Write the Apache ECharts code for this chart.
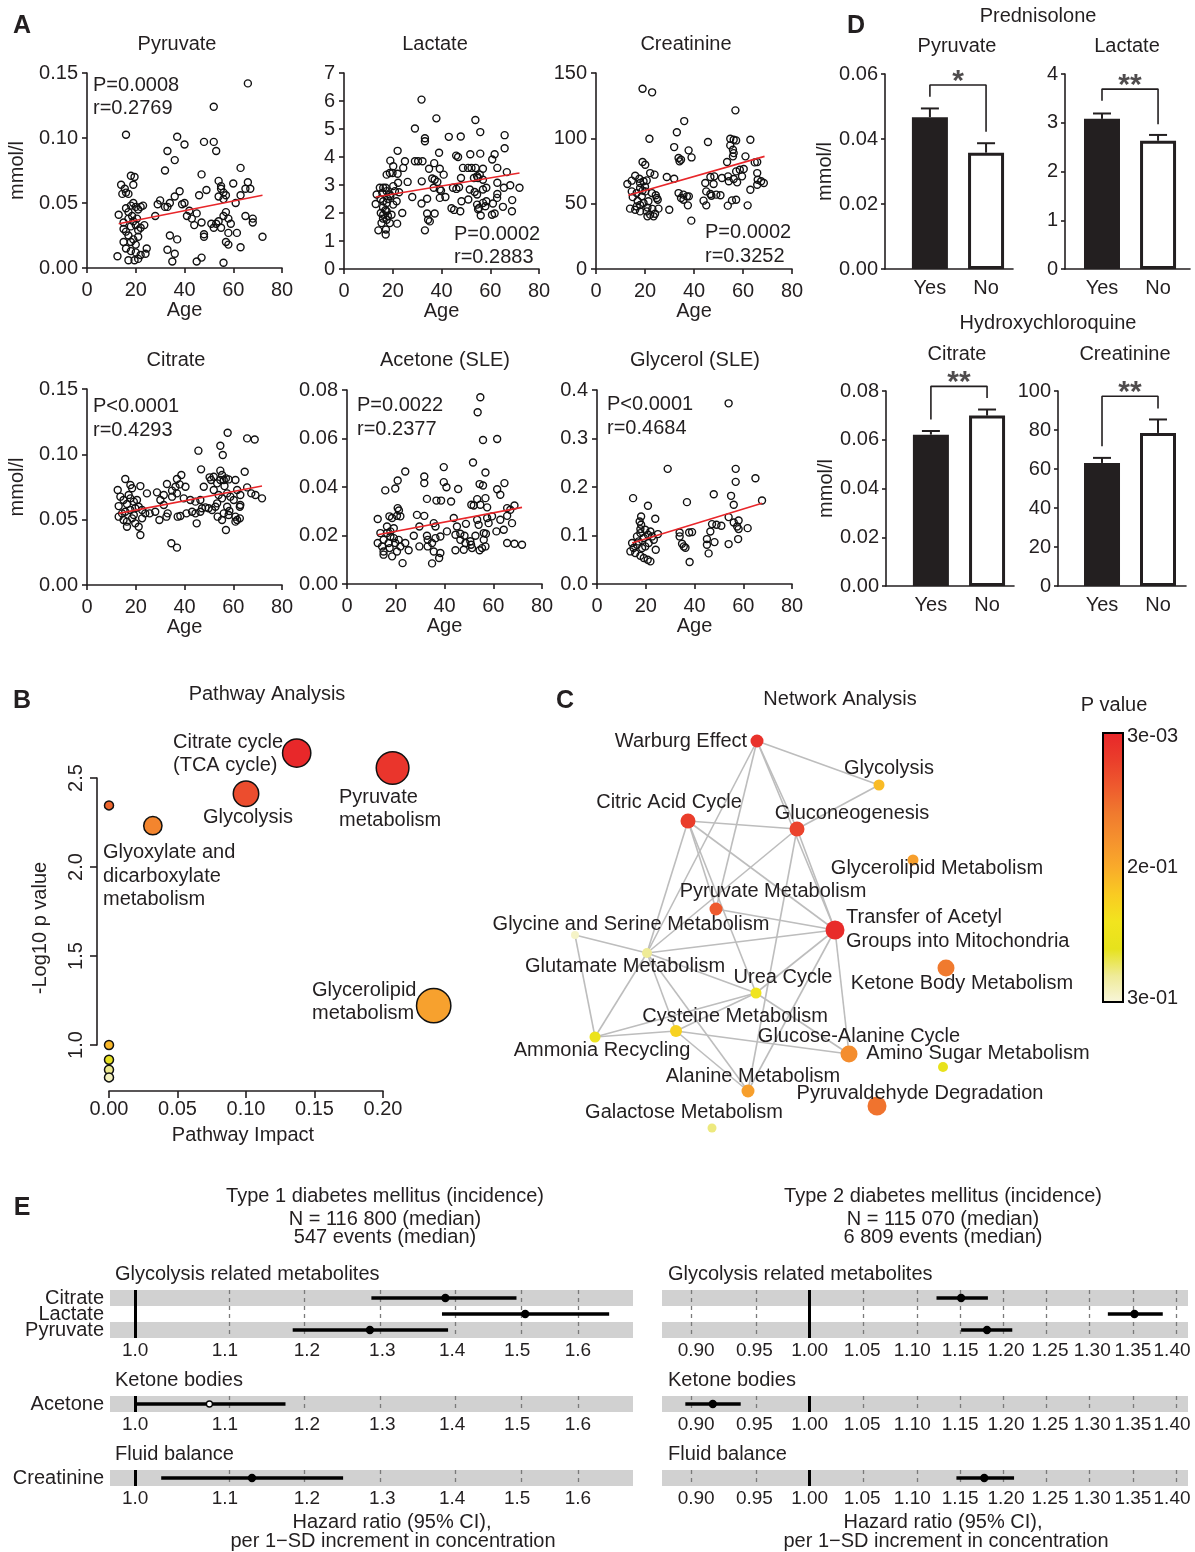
<!DOCTYPE html>
<html>
<head>
<meta charset="utf-8">
<script src="https://cdn.jsdelivr.net/npm/echarts@6/dist/echarts.min.js"></script>
<style>
  html, body { margin: 0; padding: 0; background: #fff; }
  #chart { width: 1195px; height: 1552px; }
</style>
</head>
<body>
<div id="chart"></div>
<script>
// ---- A: metabolite vs age (age, mmol/l) ----
const pyruvatePts = [[14,0.064],[15.5,0.061],[16,0.058],[18,0.071],[19.5,0.070],[19,0.064],[14.5,0.057],[17,0.057],[16,0.1025],
  [13,0.041],[15,0.035],[16,0.046],[17,0.043],[18,0.048],[19,0.050],[20,0.047],[21,0.045],[22,0.047],[23,0.048],
  [15,0.030],[16,0.028],[17,0.025],[18,0.032],[19,0.036],[20,0.033],[21,0.029],[22,0.031],[17,0.038],[18,0.020],[19,0.022],
  [20,0.018],[21,0.024],[16,0.015],[18,0.013],[20,0.012],[22,0.010],[24,0.011],[24.5,0.015],[12.5,0.009],[17,0.006],
  [19.5,0.006],[21,0.007],[23.5,0.033],[18.5,0.040],[20.5,0.038],[15,0.020],
  [28,0.040],[30,0.052],[29,0.049],[32,0.047],[33,0.047],[34,0.050],[33,0.090],[36,0.083],[32,0.075],[37,0.101],[40,0.095],
  [38,0.059],[36,0.055],[39,0.049],[40,0.050],[34,0.025],[37,0.022],[33,0.014],[36,0.011],[35,0.005],[41,0.040],[43,0.038],
  [44,0.033],[42,0.044],[46,0.056],[47,0.072],[48,0.097],[49,0.060],[45,0.042],[47,0.035],[48,0.026],[48,0.024],[45,0.005],[47,0.008],
  [52,0.124],[52,0.097],[53,0.090],[54,0.067],[55,0.061],[55,0.063],[56,0.058],[54,0.055],[56,0.053],[57,0.056],[53,0.034],
  [54,0.036],[55,0.031],[56,0.040],[57,0.043],[58,0.038],[59,0.034],[60,0.065],[61,0.050],[63,0.056],[63,0.077],[65,0.061],
  [66,0.066],[67,0.061],[58,0.027],[57,0.020],[58,0.018],[61.5,0.027],[63,0.016],[56,0.004],[65,0.040],[68,0.038],[68,0.035],
  [72,0.024],[66,0.142],[51,0.034],[52,0.031]]
const pyruvateFit = [[13, 0.034], [72, 0.056]]

const lactatePts = [[31.8,6.05],[37.9,5.38],[53.9,5.32],[29.1,5.02],[55.9,4.89],[65.9,4.78],[43,4.72],[47.9,4.73],[33.2,4.67],
  [33.2,4.56],[65.9,4.31],[22,4.22],[39,4.15],[46,4.05],[46.8,4.0],[51.8,4.1],[55.9,4.12],[61.8,4.1],[19,3.87],[25,3.85],
  [29.1,3.85],[30.4,3.85],[32.2,3.85],[37,3.78],[60.8,3.91],[20.2,3.67],[19.9,3.43],[24.3,3.61],[34.9,3.58],[39.3,3.58],
  [48.8,3.61],[50.9,3.61],[52.3,3.61],[54,3.61],[57,3.58],[55.7,3.37],[54.6,3.31],[62.9,3.61],[66.8,3.46],[17.5,3.37],
  [18.8,3.43],[22,3.4],[40.9,3.37],[36.2,3.23],[37.2,3.19],[38.3,3.11],[31.9,3.13],[48,3.25],[53.3,3.25],[55,3.25],[57,3.19],
  [14.7,2.9],[16.1,2.9],[17.1,2.9],[20.2,2.96],[22.2,3.08],[26.1,3.11],[13.4,2.66],[15.7,2.72],[17.5,2.78],[18.8,2.66],
  [20.9,2.78],[22.6,2.74],[28,2.57],[39.3,2.84],[36.8,2.9],[39.8,2.8],[44.7,2.9],[46.1,2.86],[47.2,2.92],[51.6,2.84],
  [53.6,2.75],[54.6,2.66],[58.4,2.9],[57,2.84],[62.9,3.08],[65.6,2.9],[68.2,2.99],[72,2.9],[13,2.32],[16.1,2.42],[17.5,2.36],
  [20.2,2.3],[21.6,2.42],[31.8,2.34],[34.1,2.51],[39.3,2.54],[41.6,2.57],[44.1,2.17],[45.2,2.11],[47.7,2.06],[48.2,2.42],
  [51,2.48],[54.6,2.3],[55.4,2.18],[57,2.36],[58.4,2.42],[58,2.24],[61.1,2.34],[62.9,2.68],[62.8,2.54],[65.2,2.22],[69,2.46],
  [68.9,2.06],[15.1,2.0],[16.1,1.94],[17.5,2.06],[19.5,1.94],[23.9,2.0],[34.1,1.98],[37.2,1.98],[34.5,1.76],[35.2,1.7],
  [55,2.13],[56.1,1.91],[60.7,1.94],[61.8,1.98],[15.4,1.64],[17.5,1.76],[18.8,1.64],[21.8,1.62],[14.1,1.38],[17.2,1.41],
  [17.1,1.23],[33.2,1.38],[16,2.2],[18,2.5],[19,2.6],[15,2.5],[17,2.1],[18,1.9],[16,1.8]]
const lactateFit = [[13, 2.57], [72, 3.43]]

const creatininePts = [[19,138],[22.9,135.2],[56.9,121.4],[36,113.2],[21.8,99.7],[33,104.6],[45.7,97.2],[31.9,93.3],
  [37.8,90.8],[39,85.4],[33.7,84.9],[34.7,83.6],[34.1,82.4],[54.8,94.6],[55.9,91.3],[56.2,88.7],[55.9,86.2],[54.8,99.7],
  [56.2,98.9],[57.2,98.4],[63,98.9],[61,86.2],[53.5,81.9],[65.8,81.9],[64.8,81.6],[19,81.9],[20.1,79.8],[16,71.4],[14.6,67.6],
  [12.8,65],[17.7,69.1],[18,65.8],[19.4,67.1],[20.7,67.8],[22.1,73.4],[23.9,72.2],[28.9,70.4],[31.9,69.1],[24.4,56.4],[25.2,53],
  [57.2,74.7],[58.7,76],[60.3,76.5],[59.6,70.9],[57.6,66.3],[56.2,68.9],[46.7,70.4],[48.3,70.9],[48,65],[44.6,65.8],[45,59.4],
  [46.7,57.4],[49.1,56.9],[50.8,56.4],[53.9,70.9],[54.2,67.1],[51.4,69.6],[65.8,73.4],[66,68.3],[67.4,67.1],[68.5,65.8],
  [65.8,64.5],[63,60.7],[33.7,58.1],[35.7,56.9],[37.1,55.6],[34.7,54.3],[35.7,53],[37.5,48.7],[37.9,55.6],[29.9,45.4],[38.9,37],
  [43.9,52.3],[45,48.7],[47.1,56.1],[53.8,48.5],[55.5,52.5],[57.2,53],[61.9,48.7],[13.9,46.2],[16,45.4],[18,44.1],[20.7,44.1],
  [22.1,41.6],[24.1,42.3],[25.5,46.2],[21,40.3],[23.5,40.3],[16.6,47.9],[19.4,50.5],[21.4,51.8],[18.7,55.6],[16.6,58.1],
  [14.6,59.4],[18,62],[20.1,59.4],[22.8,58.1],[24.8,54.3],[17,52],[19,60],[21,47],[15,55],[18,49],[23,46],[20,63]]
const creatinineFit = [[13.2, 56.4], [68.8, 86.2]]

const citratePts = [[57.7,0.1165],[65.7,0.1122],[68.8,0.1114],[54.7,0.1066],[55.7,0.0995],[45.7,0.1028],[46.8,0.0885],
  [64.7,0.0867],[54.7,0.0875],[55.4,0.0842],[54.7,0.0803],[56.1,0.0803],[57,0.0816],[58.1,0.0808],[53.4,0.0778],[56.4,0.0757],
  [50.3,0.0824],[52,0.0829],[50.9,0.0803],[38.7,0.0842],[36.9,0.0811],[38,0.077],[36.3,0.0752],[40.4,0.0752],[32.8,0.0773],
  [34.9,0.0722],[28.7,0.0709],[24.6,0.0701],[21.9,0.0757],[18.5,0.074],[17.8,0.0765],[15.7,0.0811],[12.6,0.0727],[60.9,0.0803],
  [61.6,0.0727],[65.7,0.0747],[67.4,0.0701],[69.1,0.0689],[71.8,0.0663],[62.9,0.0689],[47.9,0.0752],[46.5,0.065],[44.5,0.0638],
  [42.4,0.065],[39.7,0.0663],[36.9,0.0701],[34.9,0.0676],[31.5,0.0689],[30.1,0.065],[31.5,0.0612],[52,0.0727],[54,0.0689],
  [55.4,0.0663],[57.5,0.0701],[58.8,0.0676],[60.2,0.065],[53.4,0.0625],[52.7,0.0599],[51.3,0.0574],[49.9,0.0587],[48.6,0.0594],
  [47.2,0.0587],[46.5,0.0561],[44.5,0.0548],[43.1,0.0561],[40.8,0.0548],[38.3,0.0528],[37.2,0.0523],[57.5,0.0599],[58.4,0.0566],
  [56.1,0.0548],[58.1,0.0536],[60.9,0.0523],[62.7,0.051],[62.9,0.0612],[62.7,0.0599],[61.6,0.0497],[53.6,0.0523],[55.4,0.0497],
  [57,0.0421],[60.9,0.0485],[29.7,0.0497],[33.1,0.0548],[32.6,0.0523],[28,0.0561],[25.7,0.0548],[45,0.0472],[34.6,0.0319],
  [36.9,0.0286],[13,0.0604],[15,0.065],[16.4,0.062],[17.8,0.0663],[19.2,0.0638],[20.5,0.065],[13,0.0523],[14.4,0.0548],
  [15.7,0.0561],[17.8,0.0574],[19.8,0.0587],[21.2,0.0599],[22.6,0.0574],[23.9,0.0548],[15,0.0497],[16.4,0.0446],[18.5,0.051],
  [19.8,0.0472],[21.2,0.0446],[21.9,0.0383],[22.6,0.051],[16.4,0.0485],[19.2,0.0536],[13.7,0.0676],[17.1,0.0689]]
const citrateFit = [[13, 0.0548], [71.8, 0.0757]]

const acetonePts = [[54.7,0.077],[53.6,0.0708],[55.8,0.0594],[61.6,0.0598],[51.7,0.0501],[39.7,0.0482],[56.8,0.046],
  [23.9,0.0464],[20.8,0.0427],[19.8,0.0394],[15.7,0.0386],[31.7,0.0443],[31.7,0.0416],[39.7,0.042],[40.8,0.0399],[45.6,0.0392],
  [54.4,0.0412],[55.8,0.0406],[64.6,0.0416],[61.6,0.0391],[62.9,0.0368],[32.8,0.0351],[36.7,0.0344],[38.6,0.0344],[42.7,0.034],
  [51,0.0327],[52,0.0324],[53.4,0.035],[56.8,0.0354],[54.7,0.0327],[57.5,0.0316],[65.7,0.0313],[68.7,0.0324],[12.6,0.0268],
  [17.4,0.0279],[18.5,0.0272],[20.5,0.0281],[21.9,0.0279],[20.8,0.0313],[21.3,0.0303],[28.7,0.0285],[31.7,0.0281],[35.6,0.0251],
  [36.3,0.0237],[29.7,0.0237],[43.8,0.0272],[45.1,0.0237],[48.8,0.0248],[53.4,0.0265],[54,0.0244],[57.5,0.0272],[59.5,0.0279],
  [58.1,0.0251],[61.3,0.0217],[62.9,0.0265],[64.3,0.0224],[65.7,0.0281],[67.7,0.0251],[67,0.0306],[27.4,0.0199],[32.8,0.0199],
  [33.1,0.0182],[34.9,0.0169],[36.3,0.0189],[38.3,0.0196],[41,0.0217],[44.5,0.0203],[46.5,0.0207],[48.2,0.0199],[46.5,0.0182],
  [48.6,0.0169],[50.6,0.0176],[50.9,0.0162],[52.7,0.0199],[56.1,0.021],[56.1,0.0182],[57,0.0207],[65.7,0.0169],[68.7,0.0166],
  [71.8,0.0162],[29.7,0.0155],[33.1,0.0155],[35.6,0.0134],[38.3,0.0128],[37.8,0.0107],[34.9,0.0085],[22.8,0.0086],[44.5,0.0139],
  [47.9,0.0141],[51.3,0.0148],[54.4,0.0139],[55.4,0.0148],[56.8,0.0155],[12.6,0.0169],[14.4,0.0155],[15,0.0134],[17.1,0.0169],
  [17.8,0.0196],[16.4,0.021],[17.8,0.0217],[19.2,0.0189],[19.8,0.0169],[21.2,0.0182],[21.9,0.0155],[18.5,0.0114],[15,0.0121],
  [20.5,0.0134],[23.9,0.0169],[25.3,0.0139],[13.7,0.021],[16.4,0.0237],[19.2,0.023],[15,0.0182],[17.5,0.0148]]
const acetoneFit = [[12.6, 0.0203], [71.8, 0.0316]]

const glycerolPts = [[54,0.3725],[29,0.2374],[56.9,0.2374],[65,0.2181],[56.9,0.2106],[47.9,0.1852],[55,0.1818],[14.8,0.177],
  [36.9,0.1688],[56.1,0.1633],[67.7,0.1722],[20.9,0.1612],[18.1,0.1393],[23.9,0.1345],[54,0.1379],[58.1,0.131],[56.1,0.1269],
  [57.5,0.1187],[58.1,0.1132],[61.8,0.1152],[47.2,0.1235],[49,0.1221],[51,0.12],[46.5,0.1084],[33.9,0.1063],[33.9,0.0981],
  [37.8,0.1063],[39,0.107],[25,0.1029],[20.9,0.1015],[17.8,0.105],[16.4,0.0981],[19.2,0.0947],[22.6,0.0981],[45.1,0.0926],
  [48.2,0.0864],[45.1,0.0809],[54,0.0823],[57.9,0.0926],[34.9,0.083],[35.6,0.0775],[36.3,0.0748],[24.1,0.0707],[45.8,0.0631],
  [38,0.0453],[13.7,0.0672],[15.7,0.0638],[17.8,0.0583],[19.2,0.0535],[20.8,0.0501],[21.9,0.0466],[14.4,0.0844],[16.4,0.0809],
  [15,0.0741],[18.5,0.0741],[19.8,0.0775],[21.2,0.0844],[23.3,0.0912],[17.1,0.0878],[17.8,0.1132],[18.1,0.1221],[17.5,0.129],
  [19.8,0.1118],[21.9,0.1084]]
const glycerolFit = [[14.4, 0.0844], [67.7, 0.1667]]

// ---- D: treatment groups (mean, upper SEM) ----
const groupLabels = ['Yes', 'No']
const predPyrMean = [0.0467, 0.0358]
const predPyrTop = [0.0494, 0.0387]
const predLacMean = [3.08, 2.63]
const predLacTop = [3.19, 2.75]
const hcqCitMean = [0.0621, 0.0699]
const hcqCitTop = [0.0636, 0.0724]
const hcqCreMean = [63.1, 78.5]
const hcqCreTop = [65.7, 85.4]

// ---- B: pathway analysis ----
const pathwayImpact = [0.137, 0.207, 0.100, 0.000, 0.032, 0.237, 0.000, 0.000, 0.000, 0.000]
const pathwayLogP = [2.64, 2.556, 2.412, 2.346, 2.232, 1.221, 1.0, 0.917, 0.861, 0.818]

// ---- C: network ----
const netNames = ['Warburg Effect', 'Glycolysis', 'Citric Acid Cycle', 'Gluconeogenesis', 'Glycerolipid Metabolism',
  'Pyruvate Metabolism', 'Transfer of Acetyl Groups into Mitochondria', 'Glycine and Serine Metabolism',
  'Glutamate Metabolism', 'Ketone Body Metabolism', 'Urea Cycle', 'Cysteine Metabolism', 'Ammonia Recycling',
  'Glucose-Alanine Cycle', 'Amino Sugar Metabolism', 'Alanine Metabolism', 'Pyruvaldehyde Degradation', 'Galactose Metabolism']
const netX = [277, 399, 208, 317, 433, 236, 355, 95, 167, 466, 276, 196, 115, 369, 463, 268, 397, 232]
const netY = [41, 85, 121, 129, 160, 209, 230, 235, 253, 268, 293, 331, 337, 354, 367, 391, 406, 428]
const netP = [0.018, 0.166, 0.033, 0.039, 0.137, 0.062, 0.009, 0.291, 0.27, 0.092, 0.217, 0.19, 0.226, 0.116, 0.235, 0.137, 0.086, 0.264]
const netSize = [13, 11, 15, 15, 11, 13, 19, 8, 10, 17, 11, 12, 11, 17, 10, 13, 19, 9]
const netLinks = [[0,1],[0,3],[0,6],[0,8],[0,5],[1,3],[2,3],[2,6],[2,5],[2,10],[2,8],[3,6],[3,8],[3,15],[5,6],[6,8],
  [6,10],[6,15],[6,13],[7,8],[7,12],[8,10],[8,12],[8,15],[8,11],[10,12],[10,11],[10,13],[11,12],[11,13],[11,15]]

// ---- E: hazard ratios (HR, lower, upper) ----
const glycoRows = ['Citrate', 'Lactate', 'Pyruvate']
const t1GlycoHR = [1.39, 1.513, 1.283]
const t1GlycoLo = [1.285, 1.385, 1.182]
const t1GlycoHi = [1.499, 1.654, 1.394]
const t1KetHR = [1.082], t1KetLo = [0.999], t1KetHi = [1.173]
const t1FluidHR = [1.132], t1FluidLo = [1.028], t1FluidHi = [1.247]
const t2GlycoHR = [1.151, 1.352, 1.179]
const t2GlycoLo = [1.125, 1.319, 1.151]
const t2GlycoHi = [1.180, 1.388, 1.207]
const t2KetHR = [0.914], t2KetLo = [0.891], t2KetHi = [0.938]
const t2FluidHR = [1.176], t2FluidLo = [1.146], t2FluidHi = [1.209]
const t1Ticks = [1.0, 1.1, 1.2, 1.3, 1.4, 1.5, 1.6]
const t2Ticks = [0.90, 0.95, 1.00, 1.05, 1.10, 1.15, 1.20, 1.25, 1.30, 1.35, 1.40]

const FONT = '"Liberation Sans", Arial, Helvetica, sans-serif'
const INK = '#231f20'
const heatStops = ['#e8262a', '#ea3d2b', '#ee5a2e', '#f07a2e', '#f5922e', '#f9ab2a', '#f9cb22', '#f2e41e', '#e6e21c', '#efeb98', '#f8f6dc']

function mix (a, b, f) {
  const pa = [1, 3, 5].map(i => parseInt(a.substr(i, 2), 16))
  const pb = [1, 3, 5].map(i => parseInt(b.substr(i, 2), 16))
  return 'rgb(' + pa.map((v, i) => Math.round(v + (pb[i] - v) * f)).join(',') + ')'
}
function heat (t) {
  t = Math.max(0, Math.min(1, t)) * (heatStops.length - 1)
  const i = Math.min(Math.floor(t), heatStops.length - 2)
  return mix(heatStops[i], heatStops[i + 1], t - i)
}
// colour of the pathway bubbles, by -log10 p
const bubbleScale = [[2.65, '#e8262a'], [2.4, '#ec4f2e'], [2.3, '#f07a2e'], [2.2, '#f58a2e'], [1.2, '#f7a12e'],
  [1.0, '#f9b72a'], [0.92, '#e6e01c'], [0.86, '#eee98e'], [0.8, '#f6f4d4']]
function bubbleColor (v) {
  for (let i = 0; i < bubbleScale.length - 1; i++) {
    const [v0, c0] = bubbleScale[i], [v1, c1] = bubbleScale[i + 1]
    if (v >= v1) return mix(c0, c1, Math.max(0, Math.min(1, (v0 - v) / (v0 - v1))))
  }
  return bubbleScale[bubbleScale.length - 1][1]
}

const grids = [], xAxes = [], yAxes = [], series = [], graphics = []

function addGrid (g, x, y) {
  const i = grids.length
  grids.push(g)
  xAxes.push(Object.assign({ gridIndex: i }, x))
  yAxes.push(Object.assign({ gridIndex: i }, y))
  return i
}

function txt (s, x, y, o = {}) {
  graphics.push({
    type: 'text', x, y, rotation: o.rot || 0, z: 20,
    style: {
      text: s, fill: o.color || INK,
      font: (o.bold ? 'bold ' : '') + (o.size || 20) + 'px ' + FONT,
      textAlign: o.align || 'center', textVerticalAlign: 'middle'
    }
  })
}

const axisLine = { show: true, onZero: false, lineStyle: { color: INK, width: 1.6 } }
const axisTick = { show: true, length: 5, lineStyle: { color: INK, width: 1.6 } }
const lbl = extra => Object.assign({ color: INK, fontSize: 20, fontFamily: FONT }, extra)

// A: scatter with fitted line
function scatterPanel (box, pts, fit, yMax, yStep, dec, yName) {
  const gi = addGrid(box,
    { type: 'value', min: 0, max: 80, interval: 20, axisLine, axisTick, splitLine: { show: false },
      axisLabel: lbl({ margin: 12 }), name: 'Age', nameLocation: 'middle', nameGap: 32, nameTextStyle: lbl() },
    { type: 'value', min: 0, max: yMax, interval: yStep, axisLine, axisTick, splitLine: { show: false },
      axisLabel: lbl({ margin: 9, formatter: v => v.toFixed(dec) }),
      name: yName, nameLocation: 'middle', nameGap: 60, nameTextStyle: lbl() })
  series.push({
    type: 'scatter', xAxisIndex: gi, yAxisIndex: gi, data: pts, symbolSize: 7, z: 2,
    itemStyle: { color: 'rgba(0,0,0,0)', borderColor: '#111', borderWidth: 1.4, opacity: 1 }
  })
  series.push({
    type: 'line', xAxisIndex: gi, yAxisIndex: gi, data: fit, symbol: 'none', z: 3,
    lineStyle: { color: '#e8262a', width: 1.6 }
  })
}

scatterPanel({ left: 87, top: 73, width: 195, height: 195 }, pyruvatePts, pyruvateFit, 0.15, 0.05, 2, 'mmol/l')
scatterPanel({ left: 344, top: 73, width: 195, height: 196 }, lactatePts, lactateFit, 7, 1, 0, '')
scatterPanel({ left: 596, top: 73, width: 196, height: 196 }, creatininePts, creatinineFit, 150, 50, 0, '')
scatterPanel({ left: 87, top: 389, width: 195, height: 196 }, citratePts, citrateFit, 0.15, 0.05, 2, 'mmol/l')
scatterPanel({ left: 347, top: 390, width: 195, height: 194 }, acetonePts, acetoneFit, 0.08, 0.02, 2, '')
scatterPanel({ left: 597, top: 390, width: 195, height: 194 }, glycerolPts, glycerolFit, 0.4, 0.1, 1, '')

// D: bar + SEM + significance bracket
function barPanel (box, xr, means, tops, bracket, stars, yMax, yStep, dec, yName) {
  const gi = addGrid(box,
    { type: 'value', min: xr[0], max: xr[1], axisLine, axisTick: { show: false }, splitLine: { show: false },
      axisLabel: lbl({ margin: 9, customValues: [1, 2], formatter: v => groupLabels[Math.round(v) - 1] }) },
    { type: 'value', min: 0, max: yMax, interval: yStep, axisLine, axisTick: { show: true, length: 4, lineStyle: { color: INK, width: 1.6 } },
      splitLine: { show: false }, axisLabel: lbl({ margin: 7, formatter: v => v.toFixed(dec) }),
      name: yName, nameLocation: 'middle', nameGap: 49, nameTextStyle: lbl() })
  series.push({
    type: 'bar', xAxisIndex: gi, yAxisIndex: gi, barWidth: 36, z: 2,
    data: means.map((m, i) => ({
      value: [i + 1, m],
      itemStyle: i ? { color: '#fff', borderColor: INK, borderWidth: 3 } : { color: INK }
    }))
  })
  series.push({
    type: 'custom', xAxisIndex: gi, yAxisIndex: gi, z: 3, clip: false,
    data: means.map((m, i) => [i + 1, m, tops[i]]),
    renderItem: (p, api) => {
      const a = api.coord([api.value(0), api.value(1)])
      const b = api.coord([api.value(0), api.value(2)])
      const st = { stroke: INK, lineWidth: 2 }
      return {
        type: 'group', children: [
          { type: 'line', shape: { x1: a[0], y1: a[1], x2: b[0], y2: b[1] }, style: st },
          { type: 'line', shape: { x1: b[0] - 9, y1: b[1], x2: b[0] + 9, y2: b[1] }, style: st }
        ]
      }
    }
  })
  series.push({
    type: 'line', xAxisIndex: gi, yAxisIndex: gi, symbol: 'none', z: 3, clip: false,
    data: [[1, bracket[0]], [1, bracket[1]], [2, bracket[1]], [2, bracket[2]]],
    lineStyle: { color: INK, width: 1.6 }
  })
  series.push({
    type: 'scatter', xAxisIndex: gi, yAxisIndex: gi, symbolSize: 1, z: 3, clip: false,
    itemStyle: { color: 'rgba(0,0,0,0)' },
    data: [[1.5, bracket[1]]],
    label: { show: true, position: 'top', distance: -12, formatter: stars, fontSize: 30, fontWeight: 'bold', color: INK, fontFamily: FONT }
  })
}

barPanel({ left: 885, top: 74, width: 128, height: 195 }, [0.2, 2.48], predPyrMean, predPyrTop, [0.053, 0.0566, 0.0422], '*', 0.06, 0.02, 2, 'mmol/l')
barPanel({ left: 1065, top: 74, width: 125, height: 195 }, [0.34, 2.57], predLacMean, predLacTop, [3.45, 3.69, 2.97], '**', 4, 1, 0, '')
barPanel({ left: 886, top: 391, width: 128, height: 195 }, [0.2, 2.48], hcqCitMean, hcqCitTop, [0.0683, 0.0819, 0.0771], '**', 0.08, 0.02, 2, 'mmol/l')
barPanel({ left: 1058, top: 391, width: 128, height: 195 }, [0.214, 2.5], hcqCreMean, hcqCreTop, [71.7, 97.3, 91], '**', 100, 20, 0, '')

// B: pathway bubbles (R-style detached axes)
const gB = addGrid({ left: 109, top: 778, width: 274, height: 267 },
  { type: 'value', min: 0, max: 0.2, interval: 0.05, offset: 46, axisLine,
    axisTick: { show: true, length: 7, lineStyle: { color: INK, width: 1.6 } }, splitLine: { show: false },
    axisLabel: lbl({ margin: 8, formatter: v => v.toFixed(2) }) },
  { type: 'value', min: 1, max: 2.5, interval: 0.5, offset: 12, axisLine,
    axisTick: { show: true, length: 7, lineStyle: { color: INK, width: 1.6 } }, splitLine: { show: false },
    axisLabel: lbl({ margin: 11, rotate: 90, formatter: v => v.toFixed(1) }) })
series.push({
  type: 'scatter', xAxisIndex: gB, yAxisIndex: gB, clip: false, z: 3,
  data: pathwayImpact.map((v, i) => [v, pathwayLogP[i]]),
  symbolSize: v => 9 + 52 * Math.sqrt(v[0]),
  itemStyle: { color: p => bubbleColor(p.value[1]), borderColor: '#111', borderWidth: 1.5, opacity: 1 }
})

// C: network on a hidden cartesian frame
const gC = addGrid({ left: 480, top: 700, width: 700, height: 450 },
  { type: 'value', min: 0, max: 700, show: false },
  { type: 'value', min: 0, max: 450, inverse: true, show: false })
series.push({
  type: 'graph', coordinateSystem: 'cartesian2d', xAxisIndex: gC, yAxisIndex: gC, z: 2,
  data: netNames.map((n, i) => ({
    name: n, value: [netX[i], netY[i]], symbolSize: netSize[i],
    itemStyle: { color: heat((netP[i] - 0.003) / 0.297), opacity: 1 }
  })),
  links: netLinks.map(l => ({ source: l[0], target: l[1] })),
  lineStyle: { color: '#bdbdbd', width: 1.6, opacity: 1 },
  label: { show: false }
})

// E: forest plots on a log (ln) scale
function forestPanel (box, rows, hr, lo, hi, ticks, dec, range, showRows) {
  const gi = addGrid(box,
    { type: 'value', min: Math.log(range[0]), max: Math.log(range[1]), axisLine: { show: false },
      axisTick: { show: false }, splitLine: { show: false },
      axisLabel: lbl({ fontSize: 19, margin: 3, customValues: ticks.map(Math.log), formatter: v => Math.exp(v).toFixed(dec) }) },
    { type: 'category', inverse: true, data: rows, axisLine: { show: false }, axisTick: { show: false },
      axisLabel: lbl({ show: showRows, margin: 6, interval: 0 }),
      splitArea: { show: true, areaStyle: { color: ['#d1d1d1', '#ffffff'] } } })
  series.push({
    type: 'custom', xAxisIndex: gi, yAxisIndex: gi, z: 10,
    data: hr.map((h, i) => [Math.log(lo[i]), Math.log(hi[i]), Math.log(h), i, (lo[i] > 1 || hi[i] < 1) ? 1 : 0]),
    renderItem: (p, api) => {
      const a = api.coord([api.value(0), api.value(3)])
      const b = api.coord([api.value(1), api.value(3)])
      const c = api.coord([api.value(2), api.value(3)])
      const filled = api.value(4) === 1
      return {
        type: 'group', children: [
          { type: 'line', shape: { x1: a[0], y1: a[1], x2: b[0], y2: b[1] }, style: { stroke: '#000', lineWidth: 3.5 } },
          { type: 'circle', shape: { cx: c[0], cy: c[1], r: filled ? 3.5 : 3 }, style: { fill: filled ? '#000' : '#fff', stroke: '#000', lineWidth: 1.3 } }
        ]
      }
    },
    markLine: {
      silent: true, symbol: ['none', 'none'], label: { show: false }, animation: false,
      data: ticks.map(t => ({
        xAxis: Math.log(t),
        lineStyle: t === 1 ? { type: 'solid', color: '#000', width: 3 } : { type: [4, 4], color: '#7a7a7a', width: 1.3 }
      }))
    }
  })
}

const t1Range = [0.9736, 1.6964], t2Range = [0.8719, 1.4209]
forestPanel({ left: 110, top: 1290, width: 523, height: 48 }, glycoRows, t1GlycoHR, t1GlycoLo, t1GlycoHi, t1Ticks, 1, t1Range, true)
forestPanel({ left: 110, top: 1396, width: 523, height: 16 }, ['Acetone'], t1KetHR, t1KetLo, t1KetHi, t1Ticks, 1, t1Range, true)
forestPanel({ left: 110, top: 1470, width: 523, height: 16 }, ['Creatinine'], t1FluidHR, t1FluidLo, t1FluidHi, t1Ticks, 1, t1Range, true)
forestPanel({ left: 662, top: 1290, width: 526, height: 48 }, glycoRows, t2GlycoHR, t2GlycoLo, t2GlycoHi, t2Ticks, 2, t2Range, false)
forestPanel({ left: 662, top: 1396, width: 526, height: 16 }, ['Acetone'], t2KetHR, t2KetLo, t2KetHi, t2Ticks, 2, t2Range, false)
forestPanel({ left: 662, top: 1470, width: 526, height: 16 }, ['Creatinine'], t2FluidHR, t2FluidLo, t2FluidHi, t2Ticks, 2, t2Range, false)

// ---- text ----
txt('A', 22, 26, { bold: true, size: 25 })
txt('B', 22, 701, { bold: true, size: 25 })
txt('C', 565, 701, { bold: true, size: 25 })
txt('D', 856, 26, { bold: true, size: 25 })
txt('E', 22, 1208, { bold: true, size: 25 })

txt('Pyruvate', 177, 44); txt('Lactate', 435, 44); txt('Creatinine', 686, 44)
txt('Citrate', 176, 360); txt('Acetone (SLE)', 445, 360); txt('Glycerol (SLE)', 695, 360)
txt('P=0.0008', 93, 85, { align: 'left' }); txt('r=0.2769', 93, 108, { align: 'left' })
txt('P=0.0002', 454, 234, { align: 'left' }); txt('r=0.2883', 454, 257, { align: 'left' })
txt('P=0.0002', 705, 232, { align: 'left' }); txt('r=0.3252', 705, 256, { align: 'left' })
txt('P<0.0001', 93, 406, { align: 'left' }); txt('r=0.4293', 93, 430, { align: 'left' })
txt('P=0.0022', 357, 405, { align: 'left' }); txt('r=0.2377', 357, 429, { align: 'left' })
txt('P<0.0001', 607, 404, { align: 'left' }); txt('r=0.4684', 607, 428, { align: 'left' })

txt('Prednisolone', 1038, 16); txt('Pyruvate', 957, 46); txt('Lactate', 1127, 46)
txt('Hydroxychloroquine', 1048, 323); txt('Citrate', 957, 354); txt('Creatinine', 1125, 354)

txt('Pathway Analysis', 267, 694)
txt('Pathway Impact', 243, 1135)
txt('-Log10 p value', 40, 928, { rot: Math.PI / 2 })
txt('Citrate cycle', 173, 742, { align: 'left' }); txt('(TCA cycle)', 173, 765, { align: 'left' })
txt('Glycolysis', 203, 817, { align: 'left' })
txt('Pyruvate', 339, 797, { align: 'left' }); txt('metabolism', 339, 820, { align: 'left' })
txt('Glyoxylate and', 103, 852, { align: 'left' }); txt('dicarboxylate', 103, 876, { align: 'left' }); txt('metabolism', 103, 899, { align: 'left' })
txt('Glycerolipid', 312, 990, { align: 'left' }); txt('metabolism', 312, 1013, { align: 'left' })

txt('Network Analysis', 840, 699)
txt('P value', 1114, 705)
const netLabels = [['Warburg Effect', 681, 741], ['Glycolysis', 889, 768], ['Citric Acid Cycle', 669, 802],
  ['Gluconeogenesis', 852, 813], ['Glycerolipid Metabolism', 937, 868], ['Pyruvate Metabolism', 773, 891],
  ['Glycine and Serine Metabolism', 631, 924], ['Glutamate Metabolism', 625, 966], ['Urea Cycle', 783, 977],
  ['Ketone Body Metabolism', 962, 983], ['Cysteine Metabolism', 735, 1016], ['Glucose-Alanine Cycle', 859, 1036],
  ['Ammonia Recycling', 602, 1050], ['Amino Sugar Metabolism', 978, 1053], ['Alanine Metabolism', 753, 1076],
  ['Pyruvaldehyde Degradation', 920, 1093], ['Galactose Metabolism', 684, 1112]]
netLabels.forEach(l => txt(l[0], l[1], l[2]))
txt('Transfer of Acetyl', 846, 917, { align: 'left' })
txt('Groups into Mitochondria', 846, 941, { align: 'left' })
graphics.push({
  type: 'rect', shape: { x: 1103, y: 733, width: 20, height: 269 }, z: 20,
  style: {
    stroke: '#000', lineWidth: 2,
    fill: new echarts.graphic.LinearGradient(0, 0, 0, 1, heatStops.map((c, i) => ({ offset: i / (heatStops.length - 1), color: c })))
  }
})
txt('3e-03', 1127, 736, { align: 'left' }); txt('2e-01', 1127, 867, { align: 'left' }); txt('3e-01', 1127, 998, { align: 'left' })

txt('Type 1 diabetes mellitus (incidence)', 385, 1196); txt('N = 116 800 (median)', 385, 1219); txt('547 events (median)', 385, 1237)
txt('Type 2 diabetes mellitus (incidence)', 943, 1196); txt('N = 115 070 (median)', 943, 1219); txt('6 809 events (median)', 943, 1237)
txt('Glycolysis related metabolites', 115, 1274, { align: 'left' })
txt('Ketone bodies', 115, 1380, { align: 'left' })
txt('Fluid balance', 115, 1454, { align: 'left' })
txt('Glycolysis related metabolites', 668, 1274, { align: 'left' })
txt('Ketone bodies', 668, 1380, { align: 'left' })
txt('Fluid balance', 668, 1454, { align: 'left' })
txt('Hazard ratio (95% CI),', 392, 1522); txt('per 1\u2212SD increment in concentration', 393, 1541)
txt('Hazard ratio (95% CI),', 943, 1522); txt('per 1\u2212SD increment in concentration', 946, 1541)

const chart = echarts.init(document.getElementById('chart'))
chart.setOption({
  animation: false,
  backgroundColor: '#fff',
  textStyle: { fontFamily: FONT },
  grid: grids,
  xAxis: xAxes,
  yAxis: yAxes,
  series,
  graphic: graphics
})
</script>
</body>
</html>
